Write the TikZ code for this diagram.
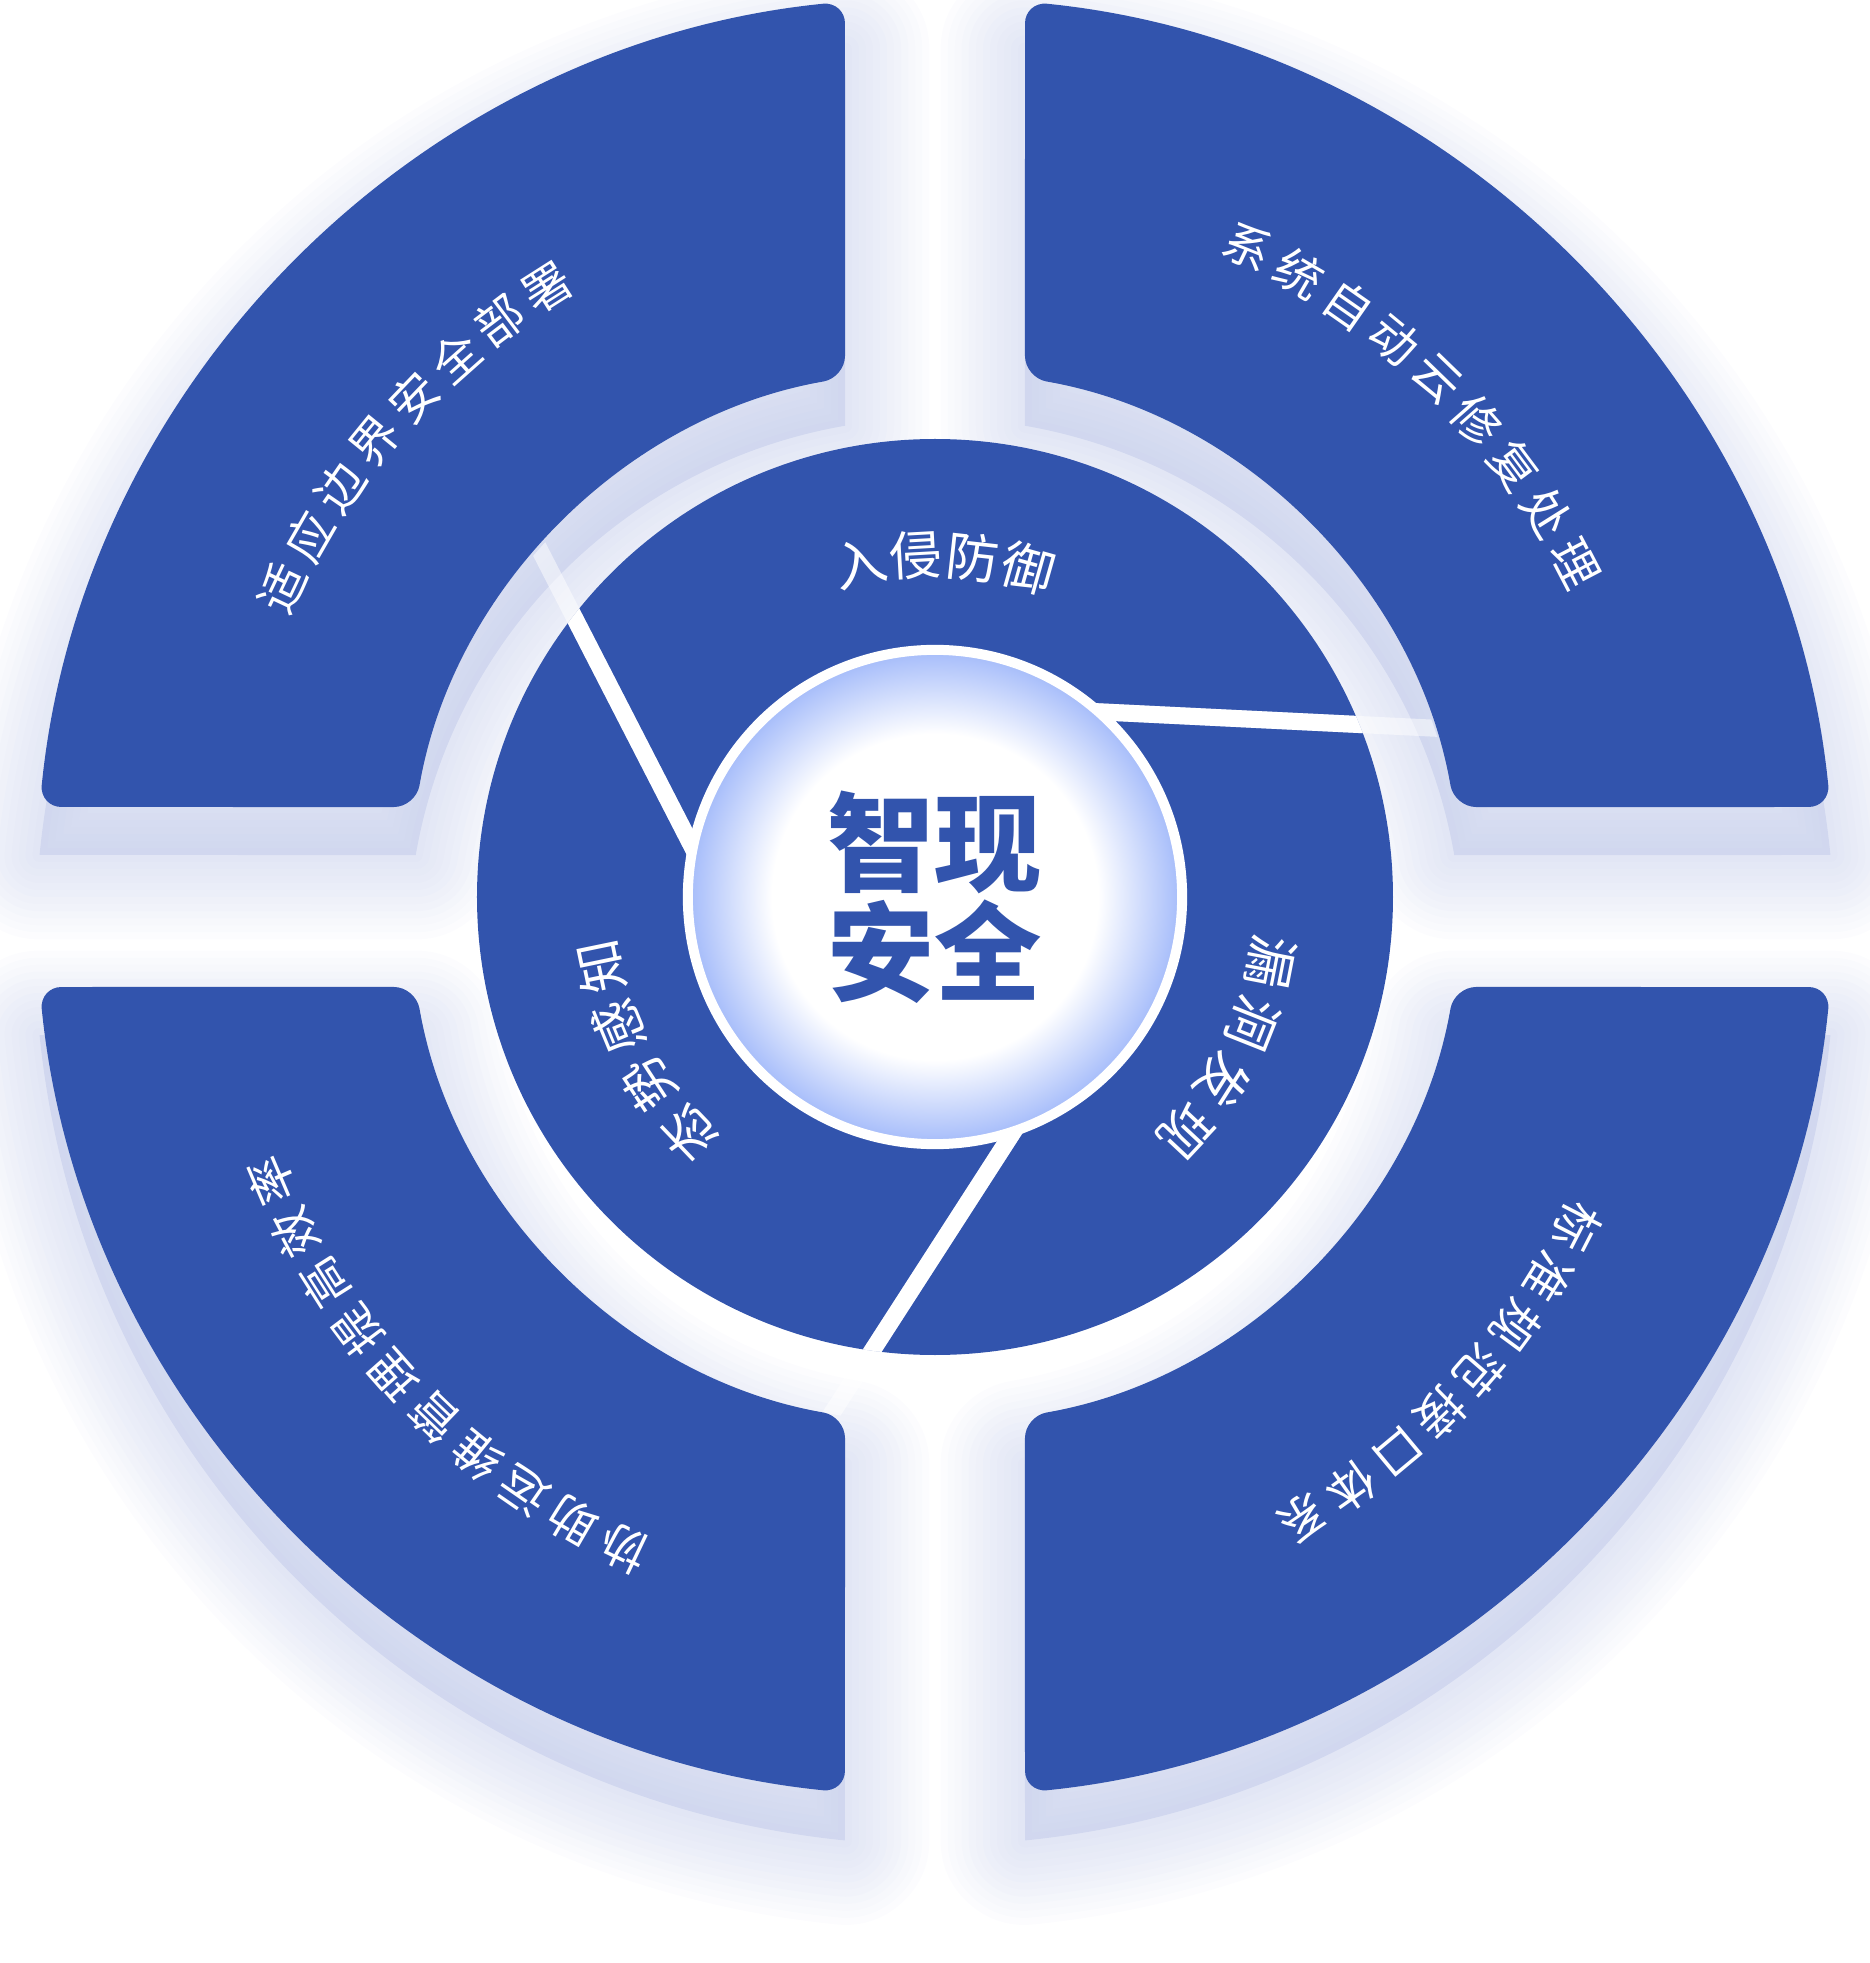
\documentclass[tikz,border=0pt]{standalone}
\usepackage{fontspec}
\newfontfamily\cjk{Noto Sans CJK SC}
\usetikzlibrary{calc}

\definecolor{ringblue}{RGB}{50,84,173}
\definecolor{glowblue}{RGB}{164,187,250}
\definecolor{shadeblue}{RGB}{172,184,226}
\pgfdeclareradialshading{coreglow}{\pgfpointorigin}{color(0bp)=(white); color(16.5bp)=(white); color(25bp)=(glowblue); color(50bp)=(glowblue)}

\tikzset{
  quad/.style={fill=ringblue, rounded corners=0.22cm},
  gapline/.style={draw=white, line width=0.17cm},
  core/.style={circle, minimum size=4.94cm, inner sep=0pt, draw=white, line width=0.1cm,
    text=ringblue, align=center, font=\cjk\bfseries\fontsize{30.5}{31}\selectfont},
  outertxt/.style={text=white, inner sep=0pt, font=\cjk\fontsize{13.6}{14}\selectfont},
  innertxt/.style={text=white, inner sep=0pt, font=\cjk\fontsize{15}{16}\selectfont},
}

% one quarter of the outer ring (upper right), rotate for the others
\newcommand{\quadshape}[1]{%
  \path[#1] (90,700) -- (84.26:900) arc[start angle=84.26, end angle=5.74, radius=900]
    -- (9.83:527) arc[start angle=9.83, end angle=80.17, radius=527] -- cycle;}

% characters set one by one along a circle, clockwise
\newcommand{\arclabel}[6]{%
  \foreach \ch [count=\i] in {#6}{
    \pgfmathsetmacro{\ang}{#2-#3*(\i-1)}
    \node[#5, rotate=\ang-90] (#1\i) at (\ang:#4) {\ch};
  }}

\begin{document}
\begin{tikzpicture}[x=0.01cm, y=0.01cm]

\useasboundingbox (-935,-1066) rectangle (935,897);

% soft shadow under the outer ring
\begin{scope}[shift={(0,-48)}]
\foreach \a in {0,90,180,270}{
  \begin{scope}[rotate=\a]
    \foreach \w in {4,8,...,48}
      \quadshape{draw=shadeblue, draw opacity=0.035, line width=\w pt, line join=round};
    \quadshape{fill=shadeblue, fill opacity=0.32}
  \end{scope}}
\end{scope}

% inner ring with three slanted cuts
\fill[ringblue] (0,0) circle (458);
\foreach \a [count=\i] in {87.2,207.2,327.2}{
  \coordinate (g\i-in) at (\a:193);
  \coordinate (g\i-out) at ($(g\i-in)+(\a-90:500)$);
}
\begin{scope}
  \clip (0,0) circle (527);
  \foreach \i in {1,2,3}
    \draw[gapline, draw opacity=0.5] (g\i-in) -- (g\i-out);
\end{scope}
\begin{scope}
  \clip (0,0) circle (458);
  \foreach \i in {1,2,3}
    \draw[gapline] (g\i-in) -- (g\i-out);
\end{scope}

% outer ring
\foreach \a in {0,90,180,270}{
  \begin{scope}[rotate=\a]
    \quadshape{quad}
  \end{scope}}

% centre disc
\shade[shading=coreglow] (0,0) circle (247);
\node[core] (core) at (0,0) {智现\\安全};

\arclabel{tl}{154.65}{4.6}{722}{outertxt}{适,应,边,界,安,全,部,署}
\arclabel{tr}{64.3}{4.6}{722}{outertxt}{系,统,自,动,云,修,复,处,理}
\arclabel{br}{-27.2}{4.6}{722}{outertxt}{标,准,规,范,接,口,体,系}
\arclabel{bl}{-115.5}{4.6}{722}{outertxt}{协,助,运,维,管,理,提,高,效,率}

\arclabel{top}{102.7}{9.5}{342}{innertxt}{入,侵,防,御}
\arclabel{rt}{-11}{10.7}{342}{innertxt}{漏,洞,发,现}
\arclabel{lt}{-136.2}{10.7}{342}{innertxt}{态,势,感,知}

\end{tikzpicture}
\end{document}
